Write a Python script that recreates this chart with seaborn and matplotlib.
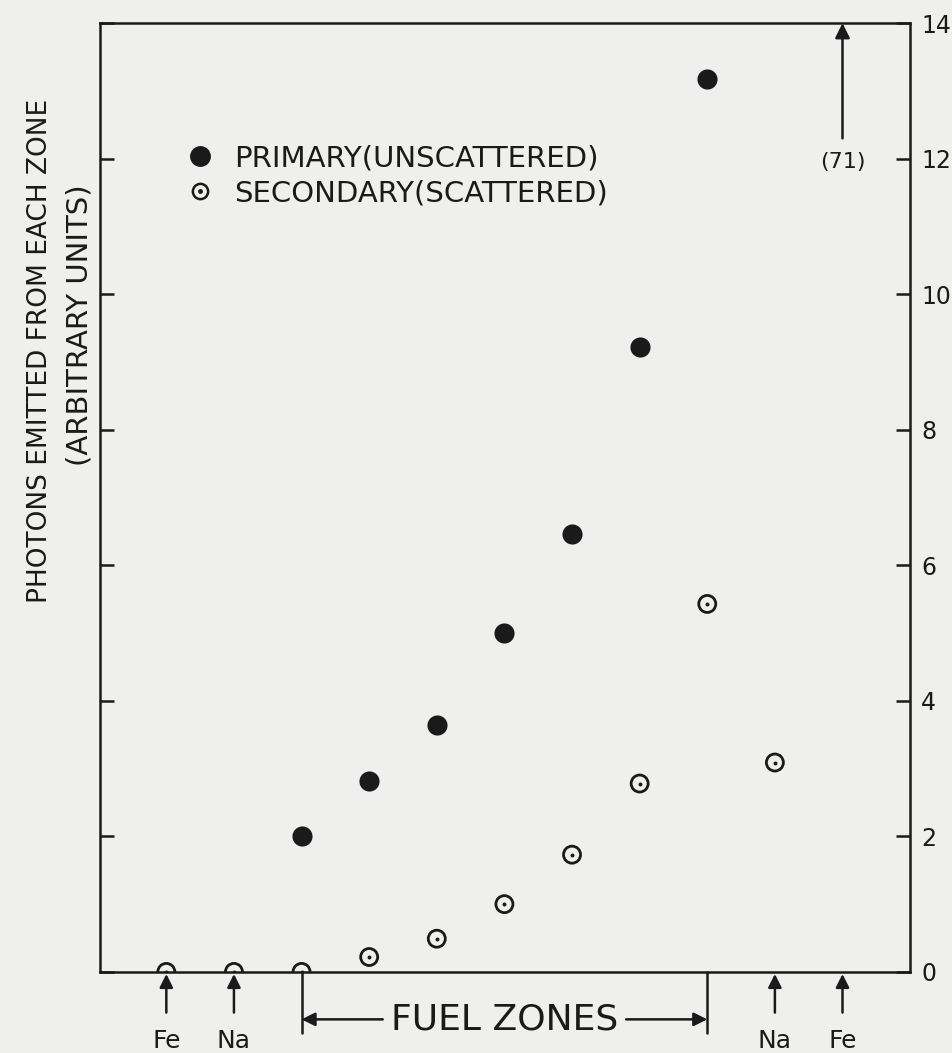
import pandas as pd
import numpy as np
import seaborn as sns
import matplotlib
matplotlib.use('Agg')
import matplotlib.pyplot as plt
from matplotlib.lines import Line2D
from matplotlib.legend_handler import HandlerTuple

# zone positions along the core (Fe, Na, 7 fuel zones, Na, Fe)
zone_labels = ['Fe', 'Na', 'F1', 'F2', 'F3', 'F4', 'F5', 'F6', 'F7', 'Na', 'Fe']
zone_pos = list(range(11))

# primary (unscattered) photons, fuel zones only
primary_x = [2, 3, 4, 5, 6, 7, 8]
primary_y = [2.0, 2.82, 3.64, 5.0, 6.46, 9.22, 13.17]

# secondary (scattered) photons
secondary_x = [0, 1, 2, 3, 4, 5, 6, 7, 8, 9]
secondary_y = [0.0, 0.0, 0.0, 0.22, 0.49, 1.0, 1.73, 2.78, 5.43, 3.09]

yticks = [0, 2, 4, 6, 8, 10, 12, 14]
off_scale_value = '(71)'

bg = '#efefed'
ink = '#1a1a1a'

sns.set_style("white")
plt.rcParams['font.family'] = ['DejaVu Sans']

df_p = pd.DataFrame({'zone': primary_x, 'photons': primary_y})
df_s = pd.DataFrame({'zone': secondary_x, 'photons': secondary_y})

fig = plt.figure(figsize=(9.53, 10.53), dpi=100, facecolor=bg)
ax = fig.add_axes([0.105, 0.077, 0.85, 0.901])
ax.set_facecolor(bg)

sns.scatterplot(data=df_p, x='zone', y='photons', ax=ax, s=210, color=ink,
                edgecolor=ink, linewidth=0, zorder=3)
sns.scatterplot(data=df_s, x='zone', y='photons', ax=ax, s=150, facecolor='none',
                edgecolor=ink, linewidth=2.0, marker='o', zorder=3)
sns.scatterplot(data=df_s, x='zone', y='photons', ax=ax, s=8, color=ink,
                linewidth=0, zorder=4)
for coll in ax.collections:
    coll.set_clip_on(True)
    coll.set_clip_box(ax.bbox)

ax.set_xlim(-0.98, 11.0)
ax.set_ylim(0, 14)
ax.set_xlabel('')
ax.set_ylabel('')
ax.set_xticks([])
ax.set_yticks(yticks)
ax.set_yticklabels([str(t) for t in yticks])
ax.yaxis.tick_right()
ax.tick_params(axis='y', which='both', left=True, right=True, direction='in',
               length=10, width=1.8, color=ink, labelsize=17, labelcolor=ink,
               labelleft=False, labelright=True, pad=8)
for sp in ax.spines.values():
    sp.set_color(ink)
    sp.set_linewidth(1.8)
    sp.set_zorder(5)

# y axis titles
fig.text(0.042, 0.667, 'PHOTONS EMITTED FROM EACH ZONE', rotation=90,
         ha='center', va='center', fontsize=19, color=ink)
fig.text(0.083, 0.691, '(ARBITRARY UNITS)', rotation=90,
         ha='center', va='center', fontsize=21, color=ink)

# legend
h_prim = Line2D([], [], marker='o', ls='none', color=ink, markersize=14)
h_ring = Line2D([], [], marker='o', ls='none', markerfacecolor='none',
                markeredgecolor=ink, markeredgewidth=1.8, markersize=11)
h_dot = Line2D([], [], marker='o', ls='none', color=ink, markersize=2.5)
leg = ax.legend([h_prim, (h_ring, h_dot)],
                ['PRIMARY(UNSCATTERED)', 'SECONDARY(SCATTERED)'],
                handler_map={tuple: HandlerTuple(ndivide=1, pad=0)},
                loc='upper left', bbox_to_anchor=(0.076, 0.9), frameon=False,
                fontsize=21, handlelength=0.8, handletextpad=0.8,
                labelspacing=0.25, labelcolor=ink)

# off-scale value for the right Fe zone
ax.annotate('', xy=(10, 14), xytext=(10, 12.3), annotation_clip=False,
            arrowprops=dict(arrowstyle='-|>', color=ink, lw=1.8,
                            mutation_scale=22, shrinkA=0, shrinkB=0))
ax.text(10, 11.95, off_scale_value, ha='center', va='center', fontsize=16, color=ink)

# zone markers below the axis
for xi in [0, 1, 9, 10]:
    ax.annotate('', xy=(zone_pos[xi], -0.03), xytext=(zone_pos[xi], -0.6),
                annotation_clip=False,
                arrowprops=dict(arrowstyle='-|>', color=ink, lw=1.8,
                                mutation_scale=20, shrinkA=0, shrinkB=0))
    ax.text(zone_pos[xi], -1.02, zone_labels[xi], ha='center', va='center',
            fontsize=18, color=ink, clip_on=False)

# fuel zone bracket
for xi in [2, 8]:
    ax.plot([xi, xi], [0, -0.9], color=ink, lw=1.8, clip_on=False)
ax.annotate('', xy=(2, -0.7), xytext=(3.2, -0.7), annotation_clip=False,
            arrowprops=dict(arrowstyle='-|>', color=ink, lw=1.8,
                            mutation_scale=20, shrinkA=0, shrinkB=0))
ax.annotate('', xy=(8, -0.7), xytext=(6.8, -0.7), annotation_clip=False,
            arrowprops=dict(arrowstyle='-|>', color=ink, lw=1.8,
                            mutation_scale=20, shrinkA=0, shrinkB=0))
ax.text(5, -0.7, 'FUEL ZONES', ha='center', va='center', fontsize=26,
        color=ink, clip_on=False, bbox=dict(facecolor=bg, edgecolor='none', pad=1))

fig.savefig('out.png', dpi=100, facecolor=bg)
